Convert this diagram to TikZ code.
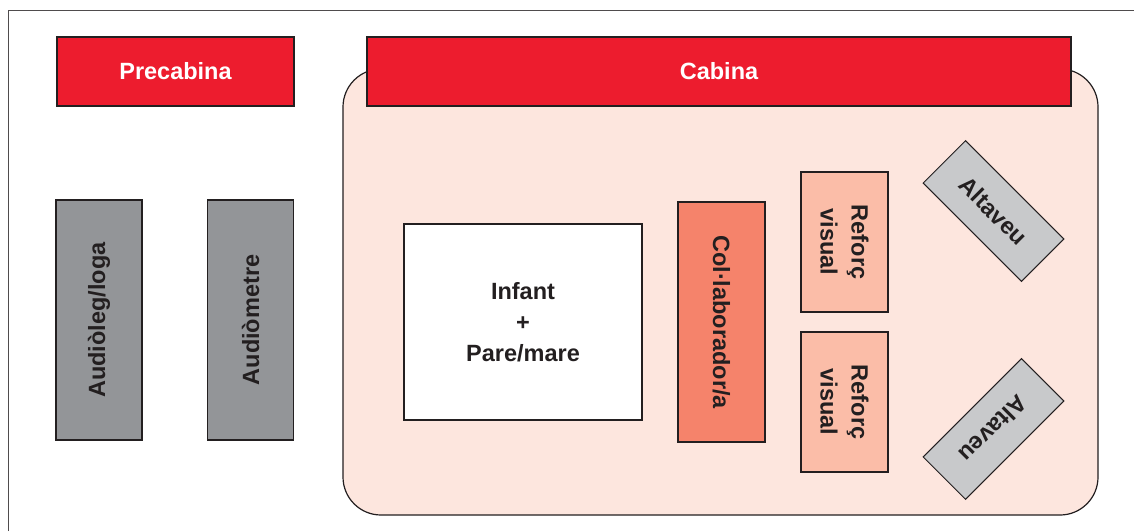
\documentclass[tikz,border=0pt]{standalone}
\usepackage{fontspec}
\setmainfont{Liberation Sans}
\definecolor{cabred}{HTML}{ED1C2E}
\definecolor{cabfill}{HTML}{FDE6DE}
\definecolor{refill}{HTML}{FBBDA8}
\definecolor{colfill}{HTML}{F5836B}
\definecolor{devgray}{HTML}{939598}
\definecolor{spkgray}{HTML}{C8C9CB}
\definecolor{ink}{HTML}{231F20}
\tikzset{
  box/.style={draw=ink, line width=1.2pt, inner sep=0pt, align=center,
    text=ink, font=\fontsize{23.5}{31}\selectfont\bfseries},
  header/.style={box, fill=cabred, text=white, minimum height=69pt},
  device/.style={box, fill=devgray, rotate=90, minimum width=240pt, minimum height=86pt},
  reforc/.style={box, fill=refill, rotate=-90, minimum width=140pt, minimum height=87pt},
  speaker/.style={box, fill=spkgray, draw=ink, line width=1pt, minimum width=139pt, minimum height=60pt},
}
\begin{document}
\begin{tikzpicture}[x=1pt,y=-1pt]
\useasboundingbox (0,0) rectangle (1134,531);
% outer frame
\draw[draw=ink!80, line width=1pt] (8.5,531) -- (8.5,10.5) -- (1134,10.5);
% cabin room
\draw[draw=ink, line width=1.2pt, fill=cabfill, rounded corners=38pt] (343,69) rectangle (1098,515);
% headers
\node[header, minimum width=237pt] (pre) at (175.5,71.5) {Precabina};
\node[header, minimum width=704pt] (cab) at (719,71.5) {Cabina};
% pre-cabin devices
\node[device] (aud) at (99,320) {Audiòleg/loga};
\node[device] (met) at (250.5,320) {Audiòmetre};
% cabin contents
\node[box, fill=white, minimum width=238pt, minimum height=196pt] (inf) at (523,322) {Infant\\+\\Pare/mare};
\node[box, fill=colfill, rotate=-90, minimum width=240pt, minimum height=87pt] (col) at (721.5,322) {Col·laborador/a};
\node[reforc] (r1) at (844.5,242) {Reforç\\visual};
\node[reforc] (r2) at (844.5,402) {Reforç\\visual};
\node[speaker, rotate=-45] (s1) at (993.5,211) {Altaveu};
\node[speaker, rotate=-135] (s2) at (993.5,429) {Altaveu};
\end{tikzpicture}
\end{document}
